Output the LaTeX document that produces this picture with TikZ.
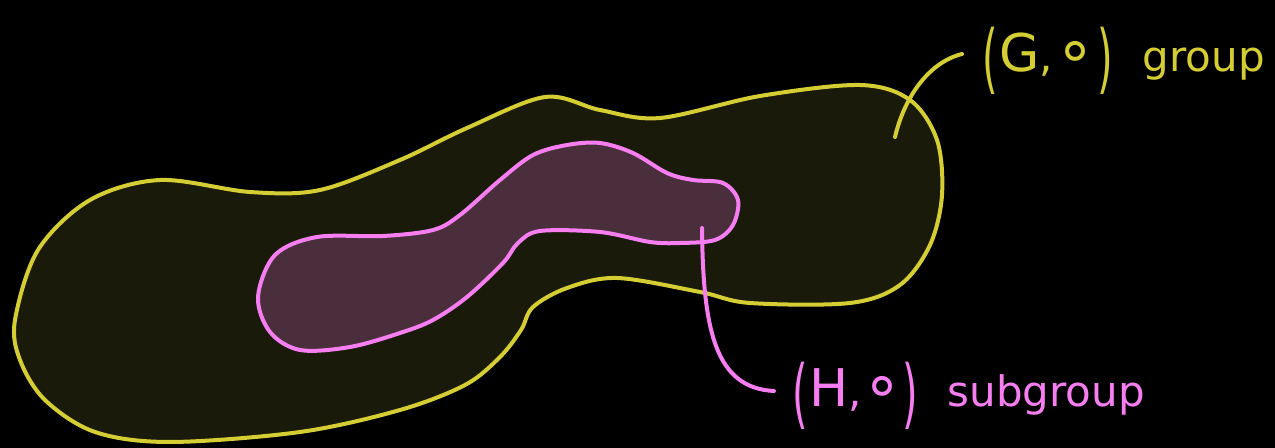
\documentclass[tikz,border=0pt]{standalone}
\usepackage{fontspec}
\setmainfont{DejaVu Sans}
\usetikzlibrary{positioning}
\definecolor{gline}{RGB}{212,206,52}
\definecolor{gfill}{RGB}{26,26,10}
\definecolor{hline}{RGB}{246,126,240}
\definecolor{hfill}{RGB}{74,46,60}
\newcommand{\lpar}{\raisebox{-6.5pt}{\scalebox{0.95}[1.8]{(}}}
\newcommand{\rpar}{\raisebox{-6.5pt}{\scalebox{0.95}[1.8]{)}}}
\newcommand{\setname}[1]{{\fontsize{26}{26}\selectfont #1}}
\newcommand{\opcirc}{{\fontsize{32}{32}\selectfont ∘}}

\begin{document}
\begin{tikzpicture}[x=0.5pt,y=-0.5pt,line width=2pt,line cap=round,line join=round,
    lbl/.style={anchor=base west,inner sep=0pt,font=\fontsize{21}{21}\selectfont}]
    \fill[black] (0,0) rectangle (1275,448);
    \useasboundingbox (0,0) rectangle (1275,448);
    % group G
    \draw[gline,fill=gfill] plot[smooth cycle,tension=0.55] coordinates {
      (15,320) (38,250) (90,200) (160,180) (250,192) (320,190) (400,160)
      (467,128) (545,97) (600,110) (660,118) (760,96) (860,85) (910,100)
      (937,140) (942,195) (930,245) (900,285) (850,303) (750,303) (700,292)
      (617,278) (567,288) (533,307) (521,330) (500,357) (465,385) (400,410)
      (300,432) (170,442) (95,432) (45,400) (20,360)};
    % subgroup H
    \draw[hline,fill=hfill] plot[smooth cycle,tension=0.55] coordinates {
      (258,297) (275,255) (317,237) (383,236) (433,230) (460,215) (500,180)
      (533,155) (567,145) (600,143) (633,153) (667,173) (693,180) (723,183)
      (738,200) (733,225) (715,240) (680,243) (650,242) (600,232) (540,231)
      (518,243) (503,263) (467,297) (433,320) (400,333) (350,347) (300,350)
      (270,332)};
    % labels
    \node[lbl,text=gline] (glbl) at (980,72)
      {\lpar\hspace{1pt}\setname{G},\hspace{1pt}\opcirc\hspace{1pt}\rpar\hspace{15pt}group};
    \node[lbl,text=hline] (hlbl) at (790,407)
      {\lpar\hspace{1pt}\setname{H},\hspace{0pt}\opcirc\hspace{0pt}\rpar\hspace{15pt}subgroup};
    % pointers
    \coordinate (gpt) at (895,137);
    \coordinate (hpt) at (702,228);
    \draw[gline] (gpt) .. controls (905,95) and (930,62) .. ([xshift=-9pt,yshift=9pt]glbl.base west);
    \draw[hline] (hpt) .. controls (703,330) and (715,388) .. ([xshift=-8pt,yshift=8pt]hlbl.base west);
\end{tikzpicture}
\end{document}
